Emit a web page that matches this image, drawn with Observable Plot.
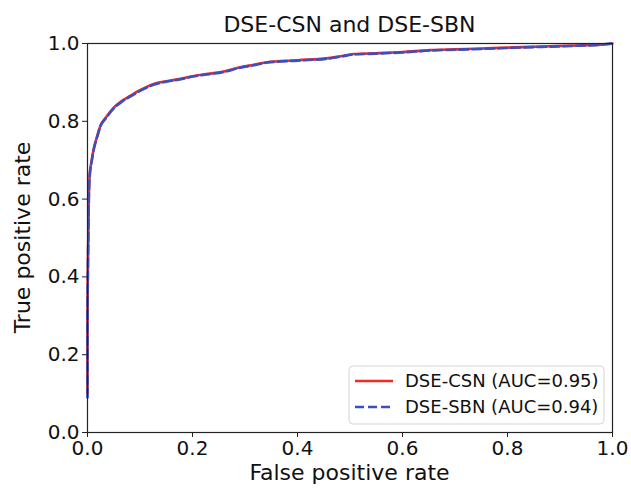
<!DOCTYPE html>
<html>
<head>
<meta charset="utf-8">
<script src="https://cdn.jsdelivr.net/npm/d3@7"></script>
<script src="https://cdn.jsdelivr.net/npm/@observablehq/plot@0.6"></script>
<style>
  html, body { margin: 0; padding: 0; background: #fff; }
  #chart svg { display: block; }
</style>
</head>
<body>
<div id="chart"></div>
<script>
const title = "DSE-CSN and DSE-SBN";
const xLabel = "False positive rate";
const yLabel = "True positive rate";
const seriesNames = ["DSE-CSN (AUC=0.95)", "DSE-SBN (AUC=0.94)"];
const tickValues = [0, 0.2, 0.4, 0.6, 0.8, 1.0];

const fprCSN = [0, 0, 0.001, 0.002, 0.0025, 0.004, 0.008, 0.012, 0.018, 0.025, 0.035, 0.05, 0.065, 0.082, 0.1, 0.126, 0.15, 0.177, 0.2, 0.23, 0.26, 0.291, 0.32, 0.342, 0.4, 0.463, 0.485, 0.507, 0.55, 0.6, 0.653, 0.7, 0.75, 0.811, 0.88, 0.93, 0.977, 1.0];
const tprCSN = [0.10, 0.30, 0.45, 0.55, 0.60, 0.66, 0.70, 0.73, 0.76, 0.79, 0.81, 0.835, 0.852, 0.866, 0.88, 0.896, 0.903, 0.909, 0.916, 0.922, 0.928, 0.939, 0.946, 0.952, 0.957, 0.963, 0.968, 0.973, 0.975, 0.978, 0.983, 0.985, 0.987, 0.990, 0.993, 0.995, 0.997, 1.0];

const fprSBN = [0, 0, 0.001, 0.002, 0.0025, 0.004, 0.008, 0.012, 0.018, 0.025, 0.035, 0.05, 0.065, 0.082, 0.1, 0.126, 0.15, 0.177, 0.2, 0.23, 0.26, 0.291, 0.32, 0.342, 0.4, 0.463, 0.485, 0.507, 0.55, 0.6, 0.653, 0.7, 0.75, 0.811, 0.88, 0.93, 0.977, 1.0];
const tprSBN = [0.09, 0.29, 0.44, 0.545, 0.595, 0.655, 0.697, 0.728, 0.758, 0.788, 0.808, 0.833, 0.85, 0.864, 0.878, 0.894, 0.902, 0.908, 0.915, 0.921, 0.927, 0.938, 0.945, 0.951, 0.956, 0.962, 0.967, 0.972, 0.974, 0.977, 0.982, 0.984, 0.986, 0.989, 0.992, 0.994, 0.997, 1.0];

const colors = ["#f22a26", "#3a4fc0"];

const csn = fprCSN.map((x, i) => ({x, y: tprCSN[i]}));
const sbn = fprSBN.map((x, i) => ({x, y: tprSBN[i]}));

const W = 631, H = 489;
const mL = 87, mR = 19, mT = 43, mB = 57;
const font = "DejaVu Sans";

const plot = Plot.plot({
  width: W,
  height: H,
  marginLeft: mL,
  marginRight: mR,
  marginTop: mT,
  marginBottom: mB,
  style: {fontFamily: font, fontSize: "20px", color: "#111", background: "#fff"},
  x: {domain: [0, 1]},
  y: {domain: [0, 1]},
  marks: [
    Plot.line(csn, {x: "x", y: "y", stroke: colors[0], strokeWidth: 2.6, curve: "monotone-x"}),
    Plot.line(sbn, {x: "x", y: "y", stroke: colors[1], strokeWidth: 2.6, strokeDasharray: "9,4", curve: "monotone-x"}),
    Plot.frame({stroke: "#222", strokeWidth: 1.2}),
    Plot.axisX({ticks: tickValues, tickFormat: d3.format(".1f"), tickSize: 5, tickPadding: 3, label: null, fontSize: 20, stroke: "#222"}),
    Plot.axisY({ticks: tickValues, tickFormat: d3.format(".1f"), tickSize: 5, tickPadding: 3, label: null, fontSize: 20, stroke: "#222"})
  ]
});

document.getElementById("chart").appendChild(plot);

const svg = d3.select(plot);
const cx = mL + (W - mL - mR) / 2;

svg.append("text").attr("x", cx).attr("y", 32)
  .attr("text-anchor", "middle").attr("font-family", font).attr("font-size", 22).attr("fill", "#111")
  .text(title);
svg.append("text").attr("x", cx).attr("y", 480)
  .attr("text-anchor", "middle").attr("font-family", font).attr("font-size", 22).attr("fill", "#111")
  .text(xLabel);
svg.append("text").attr("transform", `translate(30,${mT + (H - mT - mB) / 2}) rotate(-90)`)
  .attr("text-anchor", "middle").attr("font-family", font).attr("font-size", 22).attr("fill", "#111")
  .text(yLabel);

// legend
const lg = svg.append("g");
lg.append("rect").attr("x", 349).attr("y", 366).attr("width", 255).attr("height", 58)
  .attr("rx", 4).attr("fill", "#fff").attr("fill-opacity", 0.85).attr("stroke", "#d5d5d5");
seriesNames.forEach((name, i) => {
  const yy = 381 + i * 26;
  lg.append("line").attr("x1", 355).attr("x2", 393).attr("y1", yy).attr("y2", yy)
    .attr("stroke", colors[i]).attr("stroke-width", 2.6)
    .attr("stroke-dasharray", i === 1 ? "9,4" : null);
  lg.append("text").attr("x", 405).attr("y", yy).attr("dy", "0.35em")
    .attr("text-anchor", "start")
    .attr("font-family", font).attr("font-size", 18).attr("fill", "#111")
    .text(name);
});
</script>
</body>
</html>
